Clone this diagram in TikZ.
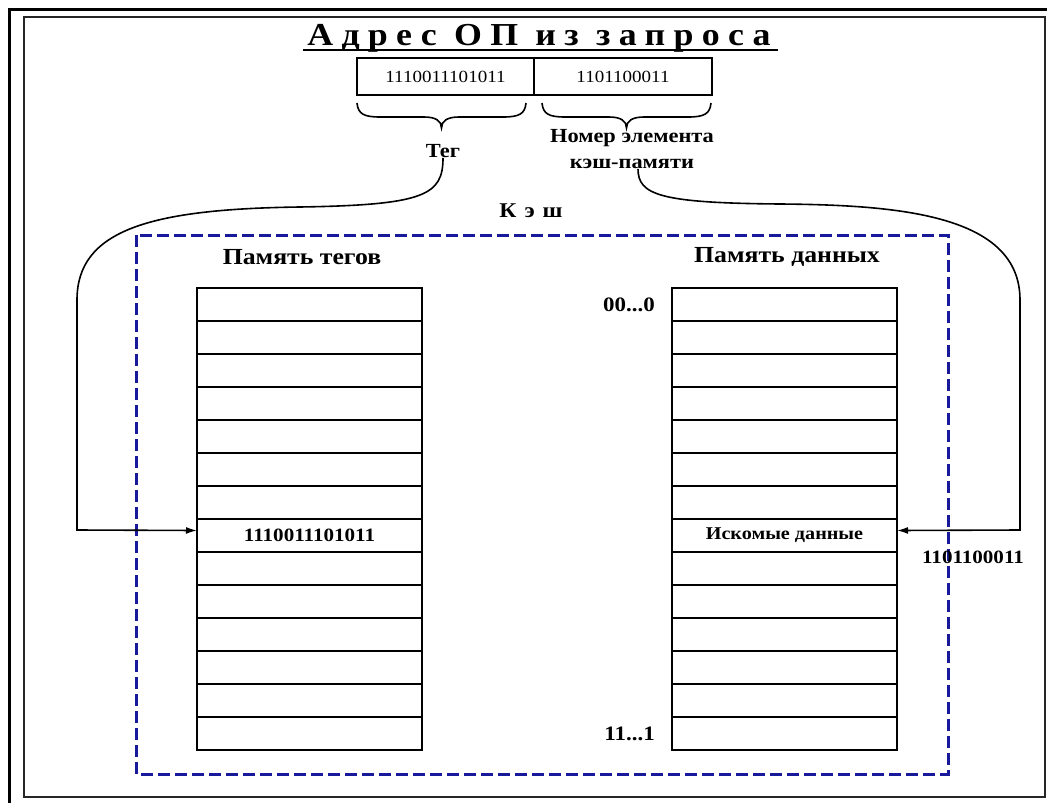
\documentclass[tikz,border=0pt]{standalone}
\usepackage{fontspec}
\setmainfont{Liberation Serif}[FakeStretch=1.12]
\usetikzlibrary{arrows.meta}
\definecolor{cachedash}{RGB}{25,25,155}
\newcommand\fsz[1]{\fontsize{#1}{#1}\selectfont}
\begin{document}
\begin{tikzpicture}[x=1pt,y=-1pt,
  cell/.style={draw, line width=2pt, minimum width=225pt, minimum height=33pt,
               inner sep=0pt, outer sep=0pt, anchor=north west},
  addr/.style={draw, line width=2pt, minimum height=37pt, inner sep=0pt, outer sep=0pt,
               anchor=north west, font=\fsz{17}},
  lbl/.style={font=\bfseries\fsz{20}, inner sep=0pt},
  hdr/.style={font=\bfseries\fsz{23}, inner sep=0pt},
  val/.style={font=\bfseries\fsz{18.8}, inner sep=0pt},
  brc/.style={line width=1.6pt},
  conn/.style={line width=1.6pt},
  arr/.style={conn, -{Latex[length=11pt,width=7pt]}},
  cache/.style={draw=cachedash, line width=3pt, dash pattern=on 12pt off 5pt}
]
\useasboundingbox (0,0) rectangle (1047,803);
\fill[white] (0,0) rectangle (1047,803);

% window frame
\draw[line width=3pt] (9.5,803) -- (9.5,9.5) -- (1047,9.5);
\draw[line width=2pt, black!85] (24,17) rectangle (1045,797);

% heading
\node[font=\bfseries\fsz{32}\addfontfeature{LetterSpace=26}, inner sep=0pt, anchor=base]
  (title) at (539,45) {Адрес ОП из запроса};
\draw[line width=2pt] (303,50) -- (778,50);

% address fields
\node[addr, minimum width=177pt] (tagbits) at (357,58) {1110011101011};
\node[addr, minimum width=178pt] (idxbits) at (534,58) {1101100011};

% braces under the fields
\draw[brc] (357,103) .. controls (358,114) and (364,117) .. (380,117) -- (424,117)
  .. controls (436,117) and (441.5,121) .. (441.5,128)
  .. controls (441.5,121) and (447,117) .. (459,117) -- (503,117)
  .. controls (519,117) and (525,114) .. (526,103);
\draw[brc, xshift=185pt] (357,103) .. controls (358,114) and (364,117) .. (380,117) -- (424,117)
  .. controls (436,117) and (441.5,121) .. (441.5,128)
  .. controls (441.5,121) and (447,117) .. (459,117) -- (503,117)
  .. controls (519,117) and (525,114) .. (526,103);

\node[lbl] (tag) at (443,151) {Тег};
\node[lbl, align=center, font=\bfseries\fontsize{20}{26}\selectfont] (idx) at (632,149)
  {Номер элемента\\кэш-памяти};

\node[font=\bfseries\fsz{21}\addfontfeature{LetterSpace=10}, inner sep=0pt] (cachelbl) at (531,211) {К э ш};

% cache boundary
\draw[cache] (136,235) rectangle (948,774);

\node[hdr] (taghdr) at (302,257) {Память тегов};
\node[hdr] (datahdr) at (787,257) {Память данных};

% tag memory and data memory
\foreach \i in {1,...,14} {
  \node[cell] (t\i) at (197,{288+(\i-1)*33}) {};
  \node[cell] (d\i) at (672,{288+(\i-1)*33}) {};
}

\node[val] (tagval) at (t8) {1110011101011};
\node[font=\bfseries\fsz{18}, inner sep=0pt] (dataval) at (d8) {Искомые данные};
\node[font=\bfseries\fsz{20.5}, inner sep=0pt, anchor=east] (first) at ([xshift=-17pt]d1.west) {00...0};
\node[font=\bfseries\fsz{20.5}, inner sep=0pt, anchor=east] (last) at ([xshift=-17pt]d14.west) {11...1};
\node[val] (idxval) at (973,557) {1101100011};

% lookup paths
\draw[arr] (tag.south) .. controls (443,195) and (425,205) .. (300,207)
  .. controls (150,209) and (77,230) .. (77,300) -- (77,530) -- ([yshift=5pt]t8.west);
\draw[arr] ([xshift=6pt]idx.south) .. controls (638,195) and (660,203) .. (780,204)
  .. controls (900,205) and (1020,215) .. (1020,300) -- (1020,530) -- ([yshift=5pt]d8.east);
\end{tikzpicture}
\end{document}
